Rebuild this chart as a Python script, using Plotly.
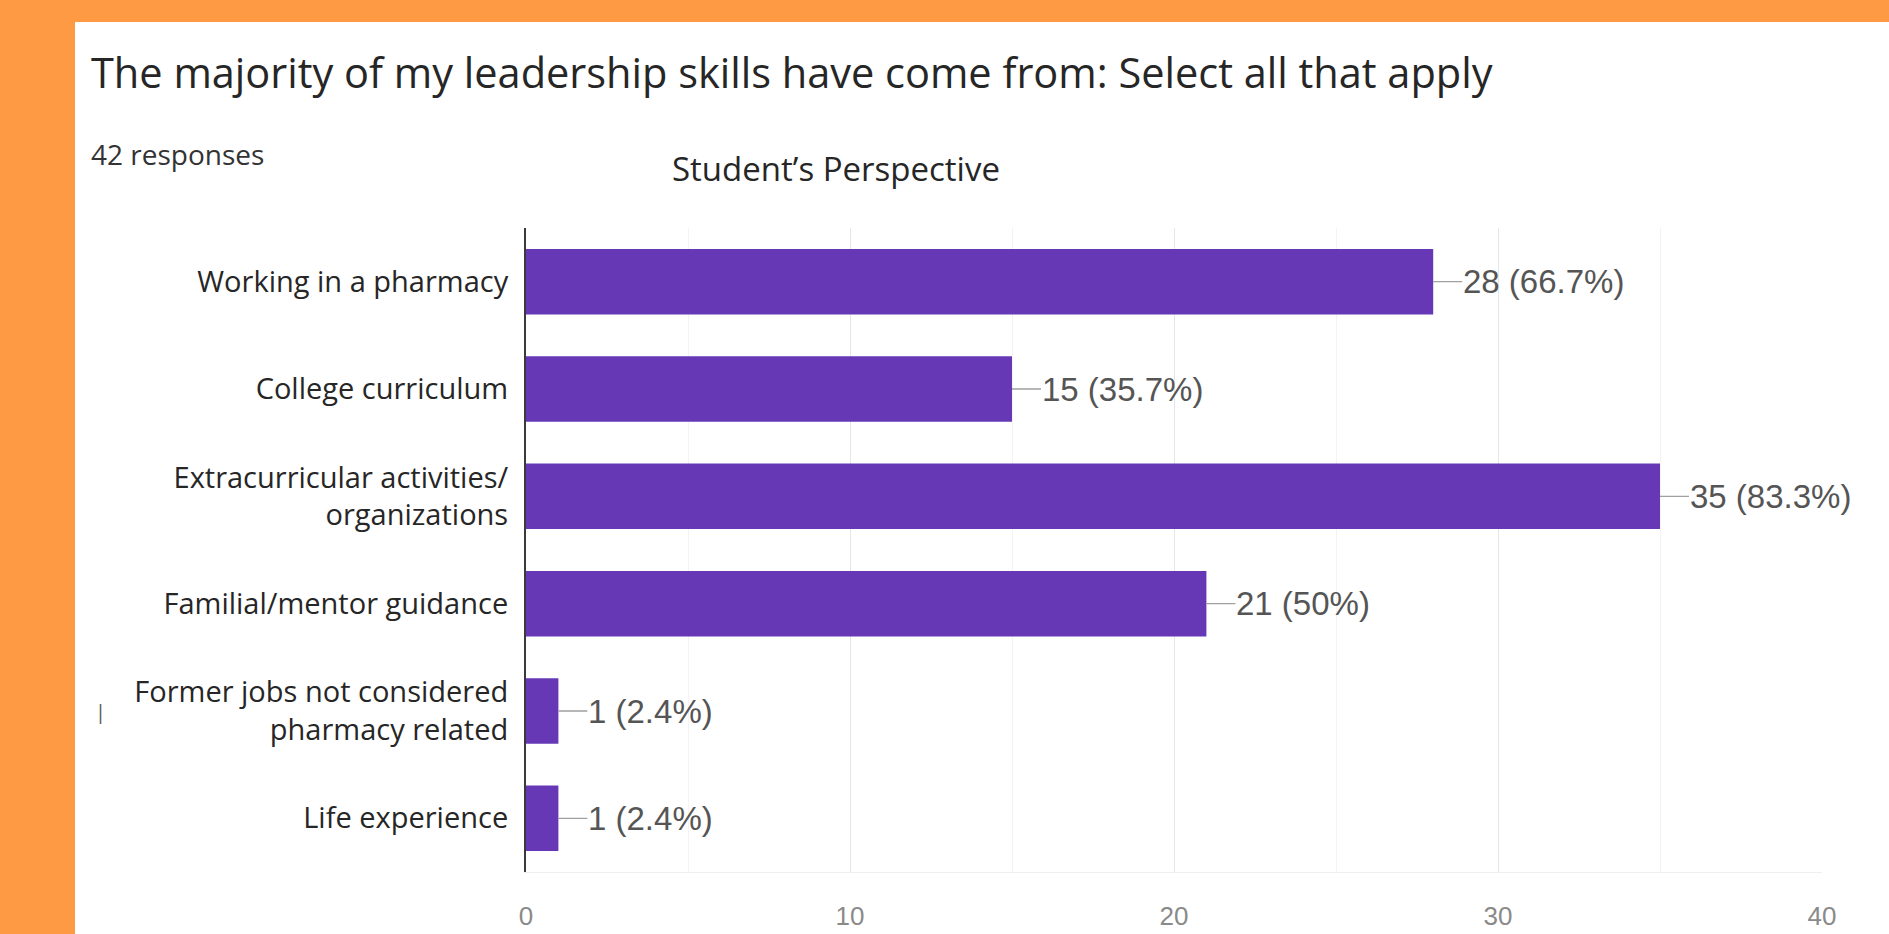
import plotly.graph_objects as go

categories = [
    "Working in a pharmacy",
    "College curriculum",
    "Extracurricular activities/<br>organizations",
    "Familial/mentor guidance",
    "Former jobs not considered<br>pharmacy related",
    "Life experience",
]
counts = [28, 15, 35, 21, 1, 1]
pct_labels = ["66.7%", "35.7%", "83.3%", "50%", "2.4%", "2.4%"]
x_ticks = [0, 10, 20, 30, 40]

title_text = "The majority of my leadership skills have come from: Select all that apply"
responses_text = "42 responses"
subtitle_text = "Student\u2019s Perspective"

W, H = 1889, 934
L, R, T, B = 526, 67, 228, 62
PW, PH = W - L - R, H - T - B


def px(x):
    return (x - L) / PW


def py(y):
    return (H - B - y) / PH


BAR = "#6638B6"
ORANGE = "#FE9A44"
FONT = "Open Sans"

fig = go.Figure()
fig.add_trace(go.Bar(
    x=counts, y=categories, orientation="h",
    marker=dict(color=BAR, line=dict(width=0)),
    hoverinfo="skip",
))

annotations = []
for c, v, p in zip(categories, counts, pct_labels):
    annotations.append(dict(
        x=v, y=c, xref="x", yref="y",
        text=f"{v} ({p})", showarrow=True, arrowhead=0, arrowwidth=1.3,
        arrowcolor="#a0a0a0", ax=29, ay=0, xanchor="left", yanchor="middle",
        font=dict(family="Liberation Sans, Arial", size=33, color="#555555"),
        borderpad=0,
    ))

annotations += [
    dict(x=px(89), y=py(72), xref="paper", yref="paper", text=title_text,
         showarrow=False, xanchor="left", yanchor="middle",
         font=dict(family=FONT, size=41.5, color="#262626")),
    dict(x=px(89), y=py(154), xref="paper", yref="paper", text=responses_text,
         showarrow=False, xanchor="left", yanchor="middle",
         font=dict(family=FONT, size=28, color="#333333")),
    dict(x=px(836), y=py(169), xref="paper", yref="paper", text=subtitle_text,
         showarrow=False, xanchor="center", yanchor="middle",
         font=dict(family=FONT, size=33, color="#262626")),
    dict(x=px(100), y=py(711), xref="paper", yref="paper", text="|",
         showarrow=False, xanchor="center", yanchor="middle",
         font=dict(family=FONT, size=20, color="#555555")),
]

fig.update_layout(
    width=W, height=H,
    margin=dict(l=L, r=R, t=T, b=B, autoexpand=False),
    paper_bgcolor=ORANGE, plot_bgcolor="white",
    bargap=0.39, showlegend=False,
    annotations=annotations,
    shapes=[dict(type="rect", xref="paper", yref="paper",
                 x0=px(75), x1=1.5, y0=-1.0, y1=py(22),
                 fillcolor="white", line=dict(width=0), layer="below")],
)
fig.update_xaxes(
    range=[0, 40], tickvals=x_ticks, ticktext=[str(t) for t in x_ticks],
    showgrid=True, gridcolor="#e6e6e6", gridwidth=1,
    minor=dict(dtick=5, showgrid=True, gridcolor="#f3f3f3"),
    zeroline=False, showline=True, linecolor="#eeeeee", linewidth=1,
    ticks="", ticklabelstandoff=21, automargin=False,
    tickfont=dict(family="Liberation Sans, Arial", size=26, color="#8a8a8a"),
)
fig.update_yaxes(
    autorange="reversed", showgrid=False, zeroline=False,
    showline=True, linecolor="#3a3a3a", linewidth=2,
    ticks="", ticklabelstandoff=10, automargin=False,
    tickfont=dict(family=FONT, size=29, color="#262626"),
)

fig.write_html("out.html")
